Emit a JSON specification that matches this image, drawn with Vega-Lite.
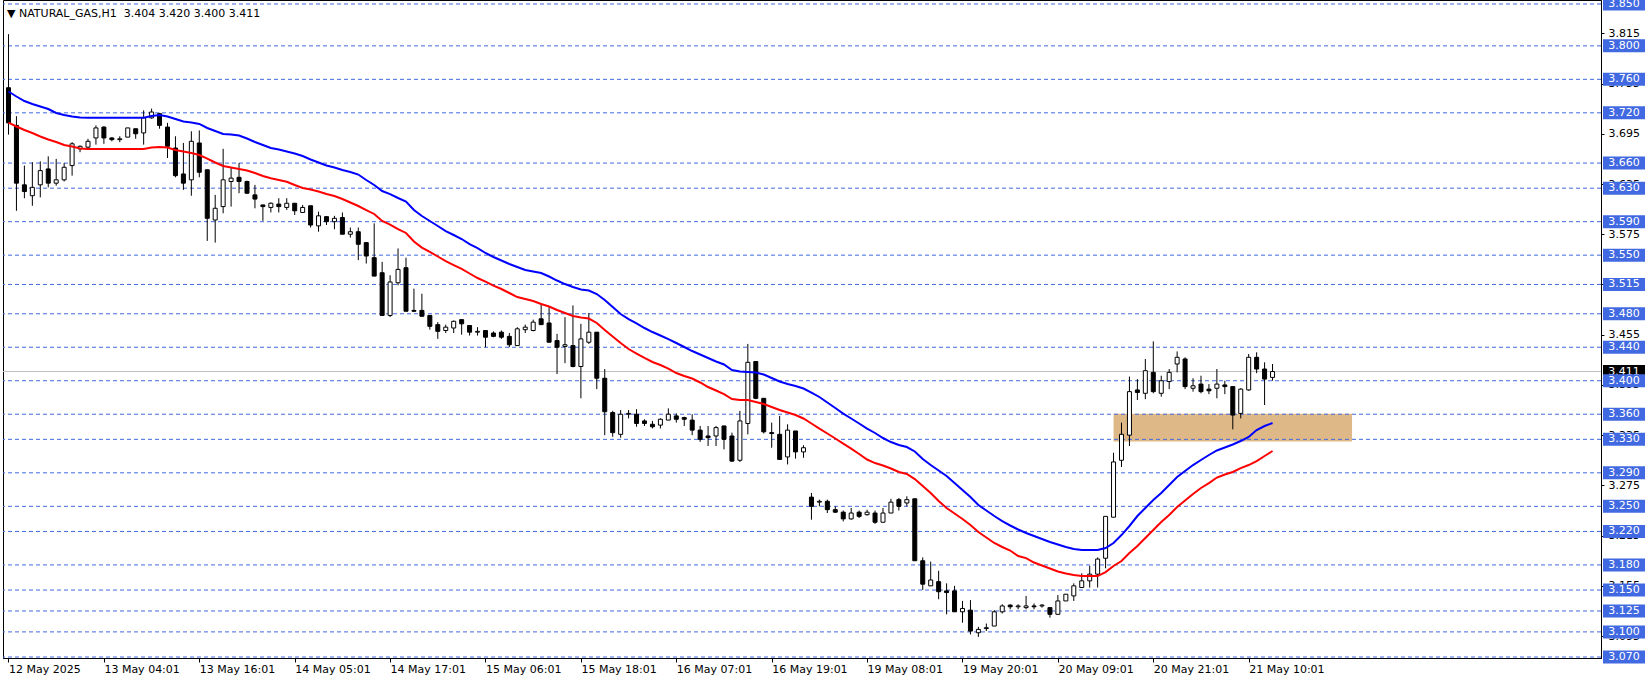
{
  "$schema": "https://vega.github.io/schema/vega-lite/v6.json",
  "autosize": {"type": "none"},
  "padding": {"left": 3, "right": 50, "top": 0, "bottom": 24},
  "width": 1598,
  "height": 658,
  "background": "white",
  "title": {"text": "▼ NATURAL_GAS,H1\u00a0 3.404 3.420 3.400 3.411", "anchor": "start", "frame": "group", "orient": "top", "offset": -31, "dx": 4, "baseline": "alphabetic", "font": "DejaVu Sans", "fontSize": 11, "fontWeight": "normal", "color": "black"},
  "config": {
    "view": {"stroke": "black", "strokeWidth": 1},
    "axis": {"labelFont": "DejaVu Sans", "labelFontSize": 11, "labelColor": "black", "domainColor": "black", "tickColor": "black", "grid": false, "title": null}
  },
  "datasets": {
    "candles": [
      {"i":0,"o":3.750,"h":3.814,"l":3.694,"c":3.708,"b":3.7455,"r":3.7084},
      {"i":1,"o":3.705,"h":3.716,"l":3.603,"c":3.636,"b":3.7395,"r":3.7037},
      {"i":2,"o":3.634,"h":3.657,"l":3.618,"c":3.626,"b":3.7341,"r":3.6995},
      {"i":3,"o":3.621,"h":3.661,"l":3.609,"c":3.631,"b":3.7306,"r":3.6959},
      {"i":4,"o":3.634,"h":3.662,"l":3.619,"c":3.651,"b":3.7276,"r":3.6917},
      {"i":5,"o":3.653,"h":3.668,"l":3.631,"c":3.636,"b":3.7246,"r":3.6881},
      {"i":6,"o":3.636,"h":3.665,"l":3.633,"c":3.640,"b":3.7198,"r":3.6852},
      {"i":7,"o":3.640,"h":3.660,"l":3.638,"c":3.655,"b":3.7174,"r":3.6816},
      {"i":8,"o":3.657,"h":3.685,"l":3.645,"c":3.683,"b":3.7156,"r":3.6798},
      {"i":9,"o":3.677,"h":3.681,"l":3.673,"c":3.680,"b":3.7144,"r":3.6774},
      {"i":10,"o":3.679,"h":3.689,"l":3.678,"c":3.686,"b":3.7142,"r":3.6768},
      {"i":11,"o":3.690,"h":3.705,"l":3.682,"c":3.702,"b":3.7142,"r":3.6768},
      {"i":12,"o":3.703,"h":3.704,"l":3.683,"c":3.690,"b":3.7142,"r":3.6768},
      {"i":13,"o":3.690,"h":3.691,"l":3.686,"c":3.688,"b":3.7142,"r":3.6768},
      {"i":14,"o":3.688,"h":3.692,"l":3.685,"c":3.689,"b":3.7142,"r":3.6768},
      {"i":15,"o":3.691,"h":3.702,"l":3.691,"c":3.702,"b":3.7142,"r":3.6768},
      {"i":16,"o":3.701,"h":3.701,"l":3.689,"c":3.695,"b":3.7142,"r":3.6768},
      {"i":17,"o":3.696,"h":3.723,"l":3.682,"c":3.714,"b":3.7142,"r":3.6768},
      {"i":18,"o":3.714,"h":3.725,"l":3.713,"c":3.721,"b":3.7162,"r":3.6786},
      {"i":19,"o":3.719,"h":3.720,"l":3.701,"c":3.705,"b":3.7174,"r":3.6792},
      {"i":20,"o":3.703,"h":3.708,"l":3.666,"c":3.680,"b":3.7156,"r":3.6786},
      {"i":21,"o":3.678,"h":3.692,"l":3.643,"c":3.645,"b":3.7126,"r":3.6756},
      {"i":22,"o":3.647,"h":3.684,"l":3.628,"c":3.636,"b":3.7096,"r":3.6738},
      {"i":23,"o":3.640,"h":3.698,"l":3.621,"c":3.686,"b":3.7084,"r":3.6720},
      {"i":24,"o":3.684,"h":3.699,"l":3.643,"c":3.649,"b":3.7067,"r":3.6696},
      {"i":25,"o":3.652,"h":3.652,"l":3.567,"c":3.594,"b":3.7019,"r":3.6654},
      {"i":26,"o":3.592,"h":3.622,"l":3.565,"c":3.606,"b":3.6983,"r":3.6607},
      {"i":27,"o":3.608,"h":3.677,"l":3.600,"c":3.640,"b":3.6947,"r":3.6565},
      {"i":28,"o":3.638,"h":3.655,"l":3.608,"c":3.642,"b":3.6941,"r":3.6547},
      {"i":29,"o":3.643,"h":3.660,"l":3.624,"c":3.638,"b":3.6929,"r":3.6529},
      {"i":30,"o":3.638,"h":3.639,"l":3.623,"c":3.624,"b":3.6893,"r":3.6511},
      {"i":31,"o":3.622,"h":3.634,"l":3.606,"c":3.617,"b":3.6852,"r":3.6481},
      {"i":32,"o":3.610,"h":3.610,"l":3.591,"c":3.608,"b":3.6816,"r":3.6445},
      {"i":33,"o":3.607,"h":3.613,"l":3.601,"c":3.612,"b":3.6780,"r":3.6418},
      {"i":34,"o":3.611,"h":3.618,"l":3.601,"c":3.608,"b":3.6762,"r":3.6398},
      {"i":35,"o":3.607,"h":3.618,"l":3.604,"c":3.612,"b":3.6738,"r":3.6377},
      {"i":36,"o":3.612,"h":3.612,"l":3.598,"c":3.603,"b":3.6714,"r":3.6338},
      {"i":37,"o":3.601,"h":3.610,"l":3.601,"c":3.607,"b":3.6684,"r":3.6302},
      {"i":38,"o":3.609,"h":3.609,"l":3.583,"c":3.586,"b":3.6643,"r":3.6284},
      {"i":39,"o":3.585,"h":3.602,"l":3.578,"c":3.597,"b":3.6607,"r":3.6260},
      {"i":40,"o":3.596,"h":3.596,"l":3.586,"c":3.590,"b":3.6571,"r":3.6230},
      {"i":41,"o":3.590,"h":3.597,"l":3.581,"c":3.594,"b":3.6547,"r":3.6207},
      {"i":42,"o":3.595,"h":3.601,"l":3.575,"c":3.575,"b":3.6517,"r":3.6171},
      {"i":43,"o":3.575,"h":3.583,"l":3.571,"c":3.578,"b":3.6493,"r":3.6129},
      {"i":44,"o":3.578,"h":3.583,"l":3.544,"c":3.563,"b":3.6463,"r":3.6087},
      {"i":45,"o":3.565,"h":3.565,"l":3.540,"c":3.549,"b":3.6398,"r":3.6039},
      {"i":46,"o":3.547,"h":3.588,"l":3.525,"c":3.525,"b":3.6338,"r":3.5992},
      {"i":47,"o":3.529,"h":3.542,"l":3.478,"c":3.478,"b":3.6266,"r":3.5908},
      {"i":48,"o":3.478,"h":3.526,"l":3.476,"c":3.518,"b":3.6230,"r":3.5866},
      {"i":49,"o":3.517,"h":3.558,"l":3.514,"c":3.533,"b":3.6183,"r":3.5812},
      {"i":50,"o":3.535,"h":3.547,"l":3.483,"c":3.483,"b":3.6141,"r":3.5765},
      {"i":51,"o":3.484,"h":3.510,"l":3.482,"c":3.483,"b":3.6039,"r":3.5663},
      {"i":52,"o":3.484,"h":3.504,"l":3.477,"c":3.477,"b":3.5968,"r":3.5591},
      {"i":53,"o":3.478,"h":3.478,"l":3.461,"c":3.465,"b":3.5908,"r":3.5538},
      {"i":54,"o":3.467,"h":3.470,"l":3.450,"c":3.459,"b":3.5848,"r":3.5484},
      {"i":55,"o":3.460,"h":3.467,"l":3.457,"c":3.464,"b":3.5788,"r":3.5430},
      {"i":56,"o":3.463,"h":3.472,"l":3.457,"c":3.471,"b":3.5741,"r":3.5382},
      {"i":57,"o":3.473,"h":3.473,"l":3.455,"c":3.468,"b":3.5693,"r":3.5335},
      {"i":58,"o":3.466,"h":3.466,"l":3.454,"c":3.458,"b":3.5633,"r":3.5281},
      {"i":59,"o":3.458,"h":3.464,"l":3.454,"c":3.459,"b":3.5585,"r":3.5227},
      {"i":60,"o":3.460,"h":3.460,"l":3.440,"c":3.452,"b":3.5526,"r":3.5185},
      {"i":61,"o":3.457,"h":3.459,"l":3.452,"c":3.453,"b":3.5478,"r":3.5137},
      {"i":62,"o":3.458,"h":3.460,"l":3.450,"c":3.452,"b":3.5436,"r":3.5096},
      {"i":63,"o":3.453,"h":3.457,"l":3.440,"c":3.443,"b":3.5394,"r":3.5048},
      {"i":64,"o":3.442,"h":3.464,"l":3.442,"c":3.462,"b":3.5358,"r":3.5000},
      {"i":65,"o":3.461,"h":3.467,"l":3.457,"c":3.464,"b":3.5323,"r":3.4976},
      {"i":66,"o":3.460,"h":3.473,"l":3.459,"c":3.470,"b":3.5305,"r":3.4952},
      {"i":67,"o":3.474,"h":3.492,"l":3.467,"c":3.467,"b":3.5287,"r":3.4916},
      {"i":68,"o":3.469,"h":3.488,"l":3.446,"c":3.446,"b":3.5245,"r":3.4887},
      {"i":69,"o":3.448,"h":3.456,"l":3.408,"c":3.440,"b":3.5197,"r":3.4845},
      {"i":70,"o":3.441,"h":3.476,"l":3.421,"c":3.443,"b":3.5155,"r":3.4809},
      {"i":71,"o":3.442,"h":3.490,"l":3.416,"c":3.417,"b":3.5120,"r":3.4773},
      {"i":72,"o":3.417,"h":3.468,"l":3.379,"c":3.450,"b":3.5090,"r":3.4755},
      {"i":73,"o":3.446,"h":3.481,"l":3.444,"c":3.458,"b":3.5078,"r":3.4743},
      {"i":74,"o":3.458,"h":3.458,"l":3.390,"c":3.403,"b":3.5036,"r":3.4690},
      {"i":75,"o":3.403,"h":3.414,"l":3.335,"c":3.363,"b":3.4964,"r":3.4606},
      {"i":76,"o":3.362,"h":3.364,"l":3.333,"c":3.338,"b":3.4881,"r":3.4528},
      {"i":77,"o":3.336,"h":3.365,"l":3.332,"c":3.360,"b":3.4797,"r":3.4451},
      {"i":78,"o":3.360,"h":3.365,"l":3.355,"c":3.361,"b":3.4737,"r":3.4379},
      {"i":79,"o":3.360,"h":3.366,"l":3.345,"c":3.349,"b":3.4684,"r":3.4325},
      {"i":80,"o":3.352,"h":3.354,"l":3.346,"c":3.349,"b":3.4630,"r":3.4272},
      {"i":81,"o":3.348,"h":3.352,"l":3.343,"c":3.345,"b":3.4582,"r":3.4224},
      {"i":82,"o":3.347,"h":3.355,"l":3.343,"c":3.354,"b":3.4540,"r":3.4188},
      {"i":83,"o":3.353,"h":3.367,"l":3.353,"c":3.360,"b":3.4498,"r":3.4146},
      {"i":84,"o":3.358,"h":3.361,"l":3.350,"c":3.354,"b":3.4451,"r":3.4092},
      {"i":85,"o":3.356,"h":3.357,"l":3.346,"c":3.354,"b":3.4403,"r":3.4056},
      {"i":86,"o":3.353,"h":3.360,"l":3.335,"c":3.341,"b":3.4355,"r":3.4027},
      {"i":87,"o":3.341,"h":3.346,"l":3.327,"c":3.330,"b":3.4313,"r":3.3979},
      {"i":88,"o":3.334,"h":3.346,"l":3.322,"c":3.332,"b":3.4272,"r":3.3925},
      {"i":89,"o":3.334,"h":3.346,"l":3.322,"c":3.344,"b":3.4230,"r":3.3883},
      {"i":90,"o":3.346,"h":3.346,"l":3.318,"c":3.330,"b":3.4194,"r":3.3841},
      {"i":91,"o":3.334,"h":3.338,"l":3.303,"c":3.304,"b":3.4128,"r":3.3782},
      {"i":92,"o":3.305,"h":3.364,"l":3.303,"c":3.352,"b":3.4110,"r":3.3770},
      {"i":93,"o":3.349,"h":3.444,"l":3.336,"c":3.422,"b":3.4104,"r":3.3770},
      {"i":94,"o":3.423,"h":3.423,"l":3.378,"c":3.379,"b":3.4098,"r":3.3746},
      {"i":95,"o":3.379,"h":3.379,"l":3.337,"c":3.339,"b":3.4074,"r":3.3722},
      {"i":96,"o":3.338,"h":3.350,"l":3.320,"c":3.337,"b":3.4033,"r":3.3686},
      {"i":97,"o":3.336,"h":3.358,"l":3.306,"c":3.306,"b":3.3991,"r":3.3650},
      {"i":98,"o":3.309,"h":3.348,"l":3.300,"c":3.341,"b":3.3961,"r":3.3620},
      {"i":99,"o":3.340,"h":3.340,"l":3.307,"c":3.315,"b":3.3937,"r":3.3591},
      {"i":100,"o":3.315,"h":3.323,"l":3.308,"c":3.320,"b":3.3907,"r":3.3549},
      {"i":101,"o":3.261,"h":3.266,"l":3.234,"c":3.250,"b":3.3859,"r":3.3489},
      {"i":102,"o":3.255,"h":3.258,"l":3.250,"c":3.256,"b":3.3806,"r":3.3429},
      {"i":103,"o":3.256,"h":3.258,"l":3.242,"c":3.246,"b":3.3740,"r":3.3370},
      {"i":104,"o":3.246,"h":3.250,"l":3.242,"c":3.243,"b":3.3674,"r":3.3310},
      {"i":105,"o":3.243,"h":3.245,"l":3.232,"c":3.235,"b":3.3608,"r":3.3250},
      {"i":106,"o":3.235,"h":3.248,"l":3.234,"c":3.242,"b":3.3549,"r":3.3190},
      {"i":107,"o":3.243,"h":3.245,"l":3.236,"c":3.238,"b":3.3489,"r":3.3125},
      {"i":108,"o":3.240,"h":3.246,"l":3.239,"c":3.243,"b":3.3429,"r":3.3059},
      {"i":109,"o":3.242,"h":3.245,"l":3.229,"c":3.231,"b":3.3376,"r":3.3017},
      {"i":110,"o":3.231,"h":3.248,"l":3.231,"c":3.242,"b":3.3316,"r":3.2987},
      {"i":111,"o":3.242,"h":3.259,"l":3.242,"c":3.255,"b":3.3268,"r":3.2952},
      {"i":112,"o":3.258,"h":3.260,"l":3.245,"c":3.250,"b":3.3232,"r":3.2910},
      {"i":113,"o":3.254,"h":3.262,"l":3.250,"c":3.258,"b":3.3208,"r":3.2886},
      {"i":114,"o":3.259,"h":3.259,"l":3.185,"c":3.185,"b":3.3155,"r":3.2826},
      {"i":115,"o":3.185,"h":3.189,"l":3.150,"c":3.157,"b":3.3065,"r":3.2742},
      {"i":116,"o":3.155,"h":3.184,"l":3.155,"c":3.162,"b":3.2993,"r":3.2659},
      {"i":117,"o":3.160,"h":3.173,"l":3.139,"c":3.148,"b":3.2928,"r":3.2563},
      {"i":118,"o":3.149,"h":3.158,"l":3.121,"c":3.147,"b":3.2862,"r":3.2480},
      {"i":119,"o":3.149,"h":3.155,"l":3.124,"c":3.124,"b":3.2778,"r":3.2414},
      {"i":120,"o":3.124,"h":3.137,"l":3.111,"c":3.128,"b":3.2695,"r":3.2348},
      {"i":121,"o":3.126,"h":3.138,"l":3.097,"c":3.101,"b":3.2611,"r":3.2277},
      {"i":122,"o":3.099,"h":3.106,"l":3.094,"c":3.103,"b":3.2516,"r":3.2193},
      {"i":123,"o":3.104,"h":3.110,"l":3.101,"c":3.105,"b":3.2450,"r":3.2127},
      {"i":124,"o":3.107,"h":3.126,"l":3.107,"c":3.124,"b":3.2384,"r":3.2062},
      {"i":125,"o":3.124,"h":3.133,"l":3.122,"c":3.131,"b":3.2324,"r":3.2014},
      {"i":126,"o":3.132,"h":3.133,"l":3.127,"c":3.130,"b":3.2271,"r":3.1972},
      {"i":127,"o":3.130,"h":3.133,"l":3.127,"c":3.131,"b":3.2223,"r":3.1906},
      {"i":128,"o":3.129,"h":3.143,"l":3.127,"c":3.131,"b":3.2181,"r":3.1882},
      {"i":129,"o":3.131,"h":3.134,"l":3.127,"c":3.130,"b":3.2145,"r":3.1829},
      {"i":130,"o":3.131,"h":3.133,"l":3.129,"c":3.132,"b":3.2109,"r":3.1793},
      {"i":131,"o":3.129,"h":3.129,"l":3.117,"c":3.121,"b":3.2074,"r":3.1757},
      {"i":132,"o":3.121,"h":3.144,"l":3.121,"c":3.137,"b":3.2044,"r":3.1721},
      {"i":133,"o":3.137,"h":3.145,"l":3.137,"c":3.145,"b":3.2014,"r":3.1697},
      {"i":134,"o":3.143,"h":3.158,"l":3.137,"c":3.155,"b":3.1990,"r":3.1679},
      {"i":135,"o":3.153,"h":3.170,"l":3.153,"c":3.161,"b":3.1978,"r":3.1667},
      {"i":136,"o":3.161,"h":3.179,"l":3.153,"c":3.169,"b":3.1978,"r":3.1667},
      {"i":137,"o":3.169,"h":3.189,"l":3.153,"c":3.187,"b":3.1978,"r":3.1667},
      {"i":138,"o":3.188,"h":3.238,"l":3.176,"c":3.238,"b":3.2002,"r":3.1715},
      {"i":139,"o":3.237,"h":3.314,"l":3.237,"c":3.303,"b":3.2062,"r":3.1787},
      {"i":140,"o":3.305,"h":3.350,"l":3.297,"c":3.336,"b":3.2157,"r":3.1847},
      {"i":141,"o":3.335,"h":3.405,"l":3.322,"c":3.387,"b":3.2265,"r":3.1942},
      {"i":142,"o":3.389,"h":3.402,"l":3.377,"c":3.386,"b":3.2384,"r":3.2026},
      {"i":143,"o":3.385,"h":3.426,"l":3.378,"c":3.412,"b":3.2480,"r":3.2121},
      {"i":144,"o":3.410,"h":3.447,"l":3.385,"c":3.387,"b":3.2575,"r":3.2217},
      {"i":145,"o":3.385,"h":3.406,"l":3.381,"c":3.400,"b":3.2659,"r":3.2312},
      {"i":146,"o":3.399,"h":3.414,"l":3.390,"c":3.410,"b":3.2754,"r":3.2396},
      {"i":147,"o":3.420,"h":3.435,"l":3.410,"c":3.428,"b":3.2850,"r":3.2492},
      {"i":148,"o":3.426,"h":3.428,"l":3.390,"c":3.393,"b":3.2922,"r":3.2569},
      {"i":149,"o":3.391,"h":3.403,"l":3.387,"c":3.394,"b":3.2993,"r":3.2647},
      {"i":150,"o":3.396,"h":3.406,"l":3.385,"c":3.387,"b":3.3053,"r":3.2719},
      {"i":151,"o":3.390,"h":3.396,"l":3.384,"c":3.388,"b":3.3113,"r":3.2778},
      {"i":152,"o":3.391,"h":3.414,"l":3.379,"c":3.396,"b":3.3167,"r":3.2844},
      {"i":153,"o":3.395,"h":3.400,"l":3.384,"c":3.393,"b":3.3202,"r":3.2880},
      {"i":154,"o":3.393,"h":3.393,"l":3.342,"c":3.359,"b":3.3238,"r":3.2910},
      {"i":155,"o":3.361,"h":3.391,"l":3.355,"c":3.390,"b":3.3280,"r":3.2957},
      {"i":156,"o":3.389,"h":3.432,"l":3.388,"c":3.428,"b":3.3328,"r":3.2993},
      {"i":157,"o":3.428,"h":3.434,"l":3.409,"c":3.414,"b":3.3411,"r":3.3041},
      {"i":158,"o":3.414,"h":3.422,"l":3.371,"c":3.402,"b":3.3459,"r":3.3101},
      {"i":159,"o":3.404,"h":3.420,"l":3.400,"c":3.411,"b":3.3495,"r":3.3161}
    ],
    "levels": [
      {"level":3.850},{"level":3.800},{"level":3.760},{"level":3.720},{"level":3.660},{"level":3.630},{"level":3.590},{"level":3.550},{"level":3.515},{"level":3.480},{"level":3.440},{"level":3.400},{"level":3.360},{"level":3.330},{"level":3.290},{"level":3.250},{"level":3.220},{"level":3.180},{"level":3.150},{"level":3.125},{"level":3.100},{"level":3.070}
    ],
    "bid": [{"price": 3.411}],
    "zone": [{"x1": 139, "x2": 169, "top": 3.3605, "bottom": 3.3275}]
  },
  "layer": [
    {
      "data": {"name": "zone"},
      "mark": {"type": "rect", "color": "#DEB887", "clip": true},
      "encoding": {
        "x": {"field": "x1", "type": "quantitative", "scale": {"domain": [-0.0625, 199.6875], "nice": false, "zero": false},
          "axis": {"orient": "bottom", "values": [0,12,24,36,48,60,72,84,96,108,120,132,144,156], "labelExpr": "['12 May 2025','13 May 04:01','13 May 16:01','14 May 05:01','14 May 17:01','15 May 06:01','15 May 18:01','16 May 07:01','16 May 19:01','19 May 08:01','19 May 20:01','20 May 09:01','20 May 21:01','21 May 10:01'][round(datum.value/12)]", "labelAlign": "left", "labelBaseline": "top", "tickSize": 4, "labelPadding": 1, "labelOverlap": false, "labelFlush": false, "labelBound": false, "title": null}},
        "x2": {"field": "x2"},
        "y": {"field": "top", "type": "quantitative", "scale": {"domain": [3.06883, 3.85478], "nice": false, "zero": false},
          "axis": {"orient": "right", "values": [3.815,3.755,3.695,3.635,3.575,3.515,3.455,3.395,3.335,3.275,3.215,3.155,3.095], "format": ".3f", "tickSize": 3, "labelPadding": 4, "labelAlign": "left", "labelBaseline": "middle", "labelOverlap": false, "labelFlush": false, "title": null}},
        "y2": {"field": "bottom"}
      }
    },
    {
      "data": {"name": "levels"},
      "mark": {"type": "rule", "color": "#4169E1", "strokeWidth": 1, "strokeDash": [4, 3]},
      "encoding": {
        "y": {"field": "level", "type": "quantitative", "scale": {"domain": [3.06883, 3.85478], "nice": false, "zero": false},
          "axis": {"orient": "right", "values": [3.815,3.755,3.695,3.635,3.575,3.515,3.455,3.395,3.335,3.275,3.215,3.155,3.095], "format": ".3f", "tickSize": 3, "labelPadding": 4, "labelAlign": "left", "labelBaseline": "middle", "labelOverlap": false, "labelFlush": false, "title": null}}
      }
    },
    {
      "data": {"name": "bid"},
      "mark": {"type": "rule", "color": "#C0C0C0", "strokeWidth": 1},
      "encoding": {
        "y": {"field": "price", "type": "quantitative", "scale": {"domain": [3.06883, 3.85478], "nice": false, "zero": false},
          "axis": {"orient": "right", "values": [3.815,3.755,3.695,3.635,3.575,3.515,3.455,3.395,3.335,3.275,3.215,3.155,3.095], "format": ".3f", "tickSize": 3, "labelPadding": 4, "labelAlign": "left", "labelBaseline": "middle", "labelOverlap": false, "labelFlush": false, "title": null}}
      }
    },
    {
      "data": {"name": "candles"},
      "mark": {"type": "rule", "color": "black", "strokeWidth": 1, "clip": true},
      "encoding": {
        "x": {"field": "i", "type": "quantitative", "scale": {"domain": [-0.0625, 199.6875], "nice": false, "zero": false},
          "axis": {"orient": "bottom", "values": [0,12,24,36,48,60,72,84,96,108,120,132,144,156], "labelExpr": "['12 May 2025','13 May 04:01','13 May 16:01','14 May 05:01','14 May 17:01','15 May 06:01','15 May 18:01','16 May 07:01','16 May 19:01','19 May 08:01','19 May 20:01','20 May 09:01','20 May 21:01','21 May 10:01'][round(datum.value/12)]", "labelAlign": "left", "labelBaseline": "top", "tickSize": 4, "labelPadding": 1, "labelOverlap": false, "labelFlush": false, "labelBound": false, "title": null}},
        "y": {"field": "h", "type": "quantitative", "scale": {"domain": [3.06883, 3.85478], "nice": false, "zero": false},
          "axis": {"orient": "right", "values": [3.815,3.755,3.695,3.635,3.575,3.515,3.455,3.395,3.335,3.275,3.215,3.155,3.095], "format": ".3f", "tickSize": 3, "labelPadding": 4, "labelAlign": "left", "labelBaseline": "middle", "labelOverlap": false, "labelFlush": false, "title": null}},
        "y2": {"field": "l"}
      }
    },
    {
      "data": {"name": "candles"},
      "mark": {"type": "bar", "width": 4, "stroke": "black", "strokeWidth": 1, "clip": true},
      "encoding": {
        "x": {"field": "i", "type": "quantitative", "scale": {"domain": [-0.0625, 199.6875], "nice": false, "zero": false},
          "axis": {"orient": "bottom", "values": [0,12,24,36,48,60,72,84,96,108,120,132,144,156], "labelExpr": "['12 May 2025','13 May 04:01','13 May 16:01','14 May 05:01','14 May 17:01','15 May 06:01','15 May 18:01','16 May 07:01','16 May 19:01','19 May 08:01','19 May 20:01','20 May 09:01','20 May 21:01','21 May 10:01'][round(datum.value/12)]", "labelAlign": "left", "labelBaseline": "top", "tickSize": 4, "labelPadding": 1, "labelOverlap": false, "labelFlush": false, "labelBound": false, "title": null}},
        "y": {"field": "o", "type": "quantitative", "scale": {"domain": [3.06883, 3.85478], "nice": false, "zero": false},
          "axis": {"orient": "right", "values": [3.815,3.755,3.695,3.635,3.575,3.515,3.455,3.395,3.335,3.275,3.215,3.155,3.095], "format": ".3f", "tickSize": 3, "labelPadding": 4, "labelAlign": "left", "labelBaseline": "middle", "labelOverlap": false, "labelFlush": false, "title": null}},
        "y2": {"field": "c"},
        "fill": {"condition": {"test": "datum.c >= datum.o", "value": "white"}, "value": "black"}
      }
    },
    {
      "data": {"name": "candles"},
      "mark": {"type": "line", "color": "#0000FF", "strokeWidth": 2, "clip": true},
      "encoding": {
        "x": {"field": "i", "type": "quantitative", "scale": {"domain": [-0.0625, 199.6875], "nice": false, "zero": false},
          "axis": {"orient": "bottom", "values": [0,12,24,36,48,60,72,84,96,108,120,132,144,156], "labelExpr": "['12 May 2025','13 May 04:01','13 May 16:01','14 May 05:01','14 May 17:01','15 May 06:01','15 May 18:01','16 May 07:01','16 May 19:01','19 May 08:01','19 May 20:01','20 May 09:01','20 May 21:01','21 May 10:01'][round(datum.value/12)]", "labelAlign": "left", "labelBaseline": "top", "tickSize": 4, "labelPadding": 1, "labelOverlap": false, "labelFlush": false, "labelBound": false, "title": null}},
        "y": {"field": "b", "type": "quantitative", "scale": {"domain": [3.06883, 3.85478], "nice": false, "zero": false},
          "axis": {"orient": "right", "values": [3.815,3.755,3.695,3.635,3.575,3.515,3.455,3.395,3.335,3.275,3.215,3.155,3.095], "format": ".3f", "tickSize": 3, "labelPadding": 4, "labelAlign": "left", "labelBaseline": "middle", "labelOverlap": false, "labelFlush": false, "title": null}}
      }
    },
    {
      "data": {"name": "candles"},
      "mark": {"type": "line", "color": "#FF0000", "strokeWidth": 2, "clip": true},
      "encoding": {
        "x": {"field": "i", "type": "quantitative", "scale": {"domain": [-0.0625, 199.6875], "nice": false, "zero": false},
          "axis": {"orient": "bottom", "values": [0,12,24,36,48,60,72,84,96,108,120,132,144,156], "labelExpr": "['12 May 2025','13 May 04:01','13 May 16:01','14 May 05:01','14 May 17:01','15 May 06:01','15 May 18:01','16 May 07:01','16 May 19:01','19 May 08:01','19 May 20:01','20 May 09:01','20 May 21:01','21 May 10:01'][round(datum.value/12)]", "labelAlign": "left", "labelBaseline": "top", "tickSize": 4, "labelPadding": 1, "labelOverlap": false, "labelFlush": false, "labelBound": false, "title": null}},
        "y": {"field": "r", "type": "quantitative", "scale": {"domain": [3.06883, 3.85478], "nice": false, "zero": false},
          "axis": {"orient": "right", "values": [3.815,3.755,3.695,3.635,3.575,3.515,3.455,3.395,3.335,3.275,3.215,3.155,3.095], "format": ".3f", "tickSize": 3, "labelPadding": 4, "labelAlign": "left", "labelBaseline": "middle", "labelOverlap": false, "labelFlush": false, "title": null}}
      }
    },
    {
      "data": {"name": "bid"},
      "mark": {"type": "point", "shape": "M-1,-0.31L1,-0.31L1,0.31L-1,0.31Z", "size": 1764, "filled": true, "opacity": 1, "color": "black", "strokeWidth": 0, "xOffset": 23},
      "encoding": {
        "x": {"value": "width"},
        "y": {"field": "price", "type": "quantitative", "scale": {"domain": [3.06883, 3.85478], "nice": false, "zero": false},
          "axis": {"orient": "right", "values": [3.815,3.755,3.695,3.635,3.575,3.515,3.455,3.395,3.335,3.275,3.215,3.155,3.095], "format": ".3f", "tickSize": 3, "labelPadding": 4, "labelAlign": "left", "labelBaseline": "middle", "labelOverlap": false, "labelFlush": false, "title": null}}
      }
    },
    {
      "data": {"name": "bid"},
      "mark": {"type": "text", "font": "DejaVu Sans", "fontSize": 11, "color": "white", "align": "center", "baseline": "middle", "xOffset": 23},
      "encoding": {
        "x": {"value": "width"},
        "y": {"field": "price", "type": "quantitative", "scale": {"domain": [3.06883, 3.85478], "nice": false, "zero": false},
          "axis": {"orient": "right", "values": [3.815,3.755,3.695,3.635,3.575,3.515,3.455,3.395,3.335,3.275,3.215,3.155,3.095], "format": ".3f", "tickSize": 3, "labelPadding": 4, "labelAlign": "left", "labelBaseline": "middle", "labelOverlap": false, "labelFlush": false, "title": null}},
        "text": {"field": "price", "type": "quantitative", "format": ".3f"}
      }
    },
    {
      "data": {"name": "levels"},
      "mark": {"type": "point", "shape": "M-1,-0.31L1,-0.31L1,0.31L-1,0.31Z", "size": 1764, "filled": true, "opacity": 1, "color": "#4169E1", "strokeWidth": 0, "xOffset": 23},
      "encoding": {
        "x": {"value": "width"},
        "y": {"field": "level", "type": "quantitative", "scale": {"domain": [3.06883, 3.85478], "nice": false, "zero": false},
          "axis": {"orient": "right", "values": [3.815,3.755,3.695,3.635,3.575,3.515,3.455,3.395,3.335,3.275,3.215,3.155,3.095], "format": ".3f", "tickSize": 3, "labelPadding": 4, "labelAlign": "left", "labelBaseline": "middle", "labelOverlap": false, "labelFlush": false, "title": null}}
      }
    },
    {
      "data": {"name": "levels"},
      "mark": {"type": "text", "font": "DejaVu Sans", "fontSize": 11, "color": "white", "align": "center", "baseline": "middle", "xOffset": 23},
      "encoding": {
        "x": {"value": "width"},
        "y": {"field": "level", "type": "quantitative", "scale": {"domain": [3.06883, 3.85478], "nice": false, "zero": false},
          "axis": {"orient": "right", "values": [3.815,3.755,3.695,3.635,3.575,3.515,3.455,3.395,3.335,3.275,3.215,3.155,3.095], "format": ".3f", "tickSize": 3, "labelPadding": 4, "labelAlign": "left", "labelBaseline": "middle", "labelOverlap": false, "labelFlush": false, "title": null}},
        "text": {"field": "level", "type": "quantitative", "format": ".3f"}
      }
    }
  ]
}
